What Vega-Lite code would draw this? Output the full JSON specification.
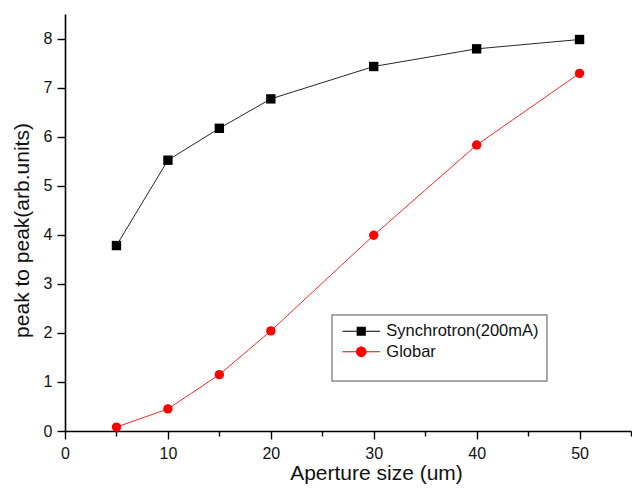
{
  "$schema": "https://vega.github.io/schema/vega-lite/v6.json",
  "width": 566,
  "height": 417,
  "autosize": {"type": "none"},
  "padding": {"left": 65, "top": 14, "right": 1, "bottom": 60},
  "config": {
    "view": {"stroke": null},
    "font": "Liberation Sans",
    "axis": {
      "grid": false,
      "domainColor": "#000000",
      "domainWidth": 1.6,
      "tickColor": "#000000",
      "tickWidth": 1.4,
      "labelColor": "#111111",
      "labelFontSize": 16,
      "labelFont": "Liberation Sans",
      "titleFont": "Liberation Sans",
      "titleFontSize": 21,
      "titleFontWeight": "normal",
      "titleColor": "#111111",
      "labelFlush": false,
      "labelOverlap": false
    }
  },
  "data": {
    "values": [
      {"series": "Synchrotron(200mA)", "x": 5, "y": 3.78},
      {"series": "Synchrotron(200mA)", "x": 10, "y": 5.52},
      {"series": "Synchrotron(200mA)", "x": 15, "y": 6.17},
      {"series": "Synchrotron(200mA)", "x": 20, "y": 6.77},
      {"series": "Synchrotron(200mA)", "x": 30, "y": 7.43},
      {"series": "Synchrotron(200mA)", "x": 40, "y": 7.79},
      {"series": "Synchrotron(200mA)", "x": 50, "y": 7.98},
      {"series": "Globar", "x": 5, "y": 0.08},
      {"series": "Globar", "x": 10, "y": 0.45},
      {"series": "Globar", "x": 15, "y": 1.15},
      {"series": "Globar", "x": 20, "y": 2.04},
      {"series": "Globar", "x": 30, "y": 3.99},
      {"series": "Globar", "x": 40, "y": 5.83},
      {"series": "Globar", "x": 50, "y": 7.29}
    ]
  },
  "encoding": {
    "x": {
      "field": "x",
      "type": "quantitative",
      "scale": {"domain": [0, 55], "nice": false, "zero": false},
      "axis": {
        "title": "Aperture size (um)",
        "values": [0, 5, 10, 15, 20, 25, 30, 35, 40, 45, 50, 55],
        "format": "d",
        "labelExpr": "datum.value % 10 === 0 ? datum.label : ''",
        "tickSize": {"condition": {"test": "datum.value % 10 === 0", "value": 8}, "value": 5},
        "labelPadding": 6,
        "titleX": 311,
        "titleY": 48,
        "titleAnchor": "middle",
        "titleAlign": "center",
        "titleBaseline": "alphabetic"
      }
    },
    "y": {
      "field": "y",
      "type": "quantitative",
      "scale": {"domain": [0, 8.5], "nice": false},
      "axis": {
        "title": "peak to peak(arb.units)",
        "values": [0, 0.5, 1, 1.5, 2, 2.5, 3, 3.5, 4, 4.5, 5, 5.5, 6, 6.5, 7, 7.5, 8, 8.5],
        "format": "d",
        "labelExpr": "datum.value % 1 === 0 ? datum.label : ''",
        "tickSize": {"condition": {"test": "datum.value % 1 === 0", "value": 8}, "value": 5},
        "labelPadding": 5,
        "titleX": -37,
        "titleY": 216,
        "titleAngle": -90,
        "titleAlign": "center",
        "titleBaseline": "alphabetic"
      }
    }
  },
  "layer": [
    {
      "mark": {"type": "point", "filled": true, "opacity": 0},
      "encoding": {
        "color": {
          "field": "series",
          "type": "nominal",
          "scale": {"domain": ["Synchrotron(200mA)", "Globar"], "range": ["#000000", "#ff0000"]},
          "legend": {
            "title": " ",
            "titleOrient": "bottom",
            "titleFontSize": 10,
            "titlePadding": 3,
            "orient": "none",
            "legendX": 267,
            "legendY": 301,
            "padding": 8,
            "strokeColor": "#8c8c8c",
            "labelFontSize": 16.5,
            "labelFont": "Liberation Sans",
            "labelColor": "#111111",
            "labelOffset": 16.8,
            "symbolOffset": 13,
            "symbolStrokeWidth": 0,
            "symbolOpacity": 1,
            "rowPadding": 3.5,
            "symbolSize": 256,
            "encode": {"legend": {"update": {"strokeWidth": {"value": 1.5}}}, "symbols": {"update": {"opacity": {"value": 1}}}}
          }
        },
        "shape": {
          "field": "series",
          "type": "nominal",
          "scale": {
            "domain": ["Synchrotron(200mA)", "Globar"],
            "range": [
              "M-2.35,-0.06H2.35V0.06H-2.35ZM-0.575,-0.575H0.575V0.575H-0.575Z",
              "M-2.35,-0.06H2.35V0.06H-2.35ZM-0.66,0A0.66,0.66,0,1,1,0.66,0A0.66,0.66,0,1,1,-0.66,0Z"
            ]
          },
          "legend": {
            "title": " ",
            "titleOrient": "bottom",
            "titleFontSize": 10,
            "titlePadding": 3,
            "orient": "none",
            "legendX": 267,
            "legendY": 301,
            "padding": 8,
            "strokeColor": "#8c8c8c",
            "labelFontSize": 16.5,
            "labelFont": "Liberation Sans",
            "labelColor": "#111111",
            "labelOffset": 16.8,
            "symbolOffset": 13,
            "symbolStrokeWidth": 0,
            "symbolOpacity": 1,
            "rowPadding": 3.5,
            "symbolSize": 256,
            "encode": {"legend": {"update": {"strokeWidth": {"value": 1.5}}}, "symbols": {"update": {"opacity": {"value": 1}}}}
          }
        }
      }
    },
    {
      "mark": {"type": "line", "strokeWidth": 1, "opacity": 0.85},
      "encoding": {
        "detail": {"field": "series", "type": "nominal"},
        "stroke": {
          "field": "series",
          "type": "nominal",
          "scale": {"domain": ["Synchrotron(200mA)", "Globar"], "range": ["#000000", "#ff0000"]},
          "legend": null
        }
      }
    },
    {
      "transform": [{"filter": "datum.series === 'Synchrotron(200mA)'"}],
      "mark": {"type": "point", "shape": "square", "filled": true, "opacity": 1, "size": 88, "color": "#000000"}
    },
    {
      "transform": [{"filter": "datum.series === 'Globar'"}],
      "mark": {"type": "point", "shape": "circle", "filled": true, "opacity": 1, "size": 88, "color": "#ff0000"}
    }
  ]
}
